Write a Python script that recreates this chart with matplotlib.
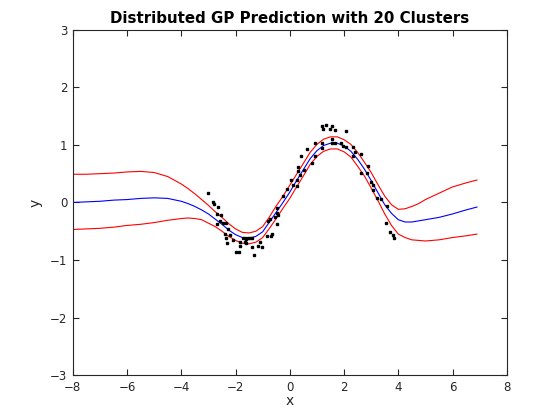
import matplotlib
matplotlib.use("Agg")
import matplotlib.pyplot as plt

# prediction grid and curves
x_grid = [-8, -7.5, -7, -6.5, -6, -5.5, -5, -4.5,
          -4, -3.75, -3.5, -3.25, -3, -2.75, -2.5, -2.25, -2, -1.75, -1.5, -1.25,
          -1, -0.75, -0.5, -0.25, 0, 0.25, 0.5, 0.75, 1, 1.25, 1.5, 1.75,
          2, 2.25, 2.5, 2.75, 3, 3.25, 3.5, 3.75, 4, 4.25, 4.5, 4.75, 5,
          5.5, 6, 6.5, 6.9]
mean_pred = [0.00, 0.01, 0.02, 0.04, 0.05, 0.07, 0.08, 0.07,
             0.02, -0.02, -0.07, -0.13, -0.20, -0.29, -0.38, -0.48, -0.56, -0.61, -0.62, -0.59,
             -0.51, -0.34, -0.17, 0.00, 0.18, 0.38, 0.57, 0.76, 0.90, 0.99, 1.03, 1.03,
             0.98, 0.89, 0.75, 0.58, 0.38, 0.17, -0.04, -0.19, -0.30, -0.34, -0.34, -0.32, -0.30,
             -0.26, -0.20, -0.13, -0.08]
upper_pred = [0.49, 0.49, 0.50, 0.51, 0.53, 0.54, 0.52, 0.45,
              0.32, 0.24, 0.15, 0.05, -0.05, -0.16, -0.26, -0.37, -0.46, -0.52, -0.53, -0.50,
              -0.42, -0.25, -0.06, 0.11, 0.30, 0.49, 0.68, 0.87, 1.01, 1.10, 1.14, 1.14,
              1.09, 1.01, 0.87, 0.70, 0.52, 0.31, 0.11, -0.04, -0.12, -0.11, -0.07, -0.02, 0.05,
              0.16, 0.27, 0.34, 0.39]
lower_pred = [-0.47, -0.46, -0.45, -0.43, -0.40, -0.38, -0.35, -0.31,
              -0.28, -0.27, -0.28, -0.30, -0.36, -0.42, -0.50, -0.59, -0.66, -0.71, -0.72, -0.69,
              -0.61, -0.45, -0.28, -0.10, 0.07, 0.27, 0.46, 0.66, 0.80, 0.89, 0.93, 0.93,
              0.88, 0.79, 0.63, 0.46, 0.25, 0.03, -0.20, -0.40, -0.55, -0.61, -0.65, -0.66, -0.67,
              -0.65, -0.61, -0.58, -0.55]

# training data points
x_data = [-3.01, -2.83, -2.80, -2.64, -2.70, -2.52, -2.56, -2.46, -2.37, -2.67, -2.27,
          -2.40, -2.21, -2.37, -2.09, -2.31, -1.84, -1.72, -1.66, -1.60, -1.53, -1.47,
          -1.41, -1.84, -1.97, -1.87, -1.66, -1.62, -1.41, -1.33, -1.17, -1.04, -1.11,
          -0.84, -0.68, -0.64, -0.80, -0.74, -0.55, -0.47, -0.47, -0.43, -0.47, -0.25,
          -0.12, 0.06, 0.12, 0.25, 0.25, 0.31, 0.31, 0.37, 0.43, 0.53, 0.64, 0.80, 0.92,
          0.92, 1.20, 1.23, 1.35, 1.54, 1.47, 1.66, 2.09, 1.54, 1.54, 1.66, 1.20, 1.20,
          1.90, 1.97, 2.09, 2.33, 2.40, 2.61, 2.33, 2.89, 2.83, 2.64, 3.01, 3.07, 3.05,
          3.20, 3.38, 3.57, 3.54, 3.69, 3.79, 3.83]
y_data = [0.16, 0.01, -0.03, -0.08, -0.20, -0.22, -0.33, -0.35, -0.35, -0.38, -0.47,
          -0.55, -0.57, -0.61, -0.65, -0.71, -0.68, -0.62, -0.61, -0.63, -0.62, -0.61,
          -0.61, -0.76, -0.86, -0.86, -0.69, -0.71, -0.78, -0.91, -0.76, -0.78, -0.68,
          -0.58, -0.58, -0.54, -0.32, -0.28, -0.25, -0.38, -0.19, -0.21, -0.09, 0.11,
          0.23, 0.39, 0.30, 0.29, 0.39, 0.55, 0.62, 0.48, 0.80, 0.57, 0.93, 0.69, 0.81,
          1.03, 1.33, 1.27, 1.35, 1.33, 1.27, 1.26, 1.25, 1.10, 1.03, 1.03, 1.03, 0.95,
          1.03, 0.98, 0.96, 0.96, 0.88, 0.85, 0.80, 0.63, 0.52, 0.51, 0.36, 0.30, 0.22,
          0.07, 0.06, -0.07, -0.36, -0.51, -0.57, -0.62]

x_ticks = [-8, -6, -4, -2, 0, 2, 4, 6, 8]
y_ticks = [-3, -2, -1, 0, 1, 2, 3]

plt.rcParams['font.family'] = ['DejaVu Sans']
fig = plt.figure(figsize=(5.6, 4.2), dpi=100)
ax = fig.add_axes([0.13, 0.107, 0.775, 0.822])

ax.plot(x_grid, upper_pred, color='red', lw=0.8)
ax.plot(x_grid, lower_pred, color='red', lw=0.8)
ax.plot(x_grid, mean_pred, color='blue', lw=0.8)
ax.plot(x_data, y_data, linestyle='none', marker='s', ms=1.8, color='black')

ax.set_xlim(-8, 8)
ax.set_ylim(-3, 3)
ax.set_xticks(x_ticks)
ax.set_yticks(y_ticks)
axcol = '#262626'
for s in ax.spines.values():
    s.set_color(axcol)
    s.set_linewidth(0.8)
ax.tick_params(direction='in', length=4, width=0.8, color=axcol, labelcolor=axcol,
               labelsize=8.5, top=True, right=True, pad=4)
ax.set_xlabel('x', fontsize=10, color=axcol, labelpad=0)
ax.set_ylabel('y', fontsize=10, color=axcol, labelpad=5)
ax.set_title('Distributed GP Prediction with 20 Clusters', fontsize=10.8, fontweight='bold',
             pad=5)

fig.savefig('out.png', dpi=100)
